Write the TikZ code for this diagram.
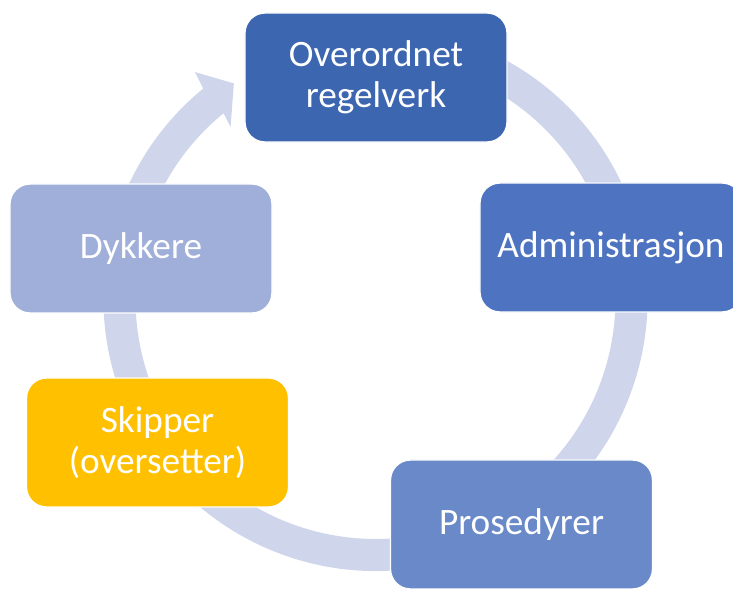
\documentclass[tikz,border=0pt]{standalone}
\usepackage{fontspec}
\setmainfont{Carlito}
\usetikzlibrary{positioning}
\definecolor{topblue}{HTML}{3D66B1}
\definecolor{midblue}{HTML}{4E74C1}
\definecolor{lowblue}{HTML}{6A89C9}
\definecolor{paleblue}{HTML}{A0AFD9}
\definecolor{skipgold}{HTML}{FFC000}
\definecolor{ring}{HTML}{CFD5EA}

\begin{document}
\begin{tikzpicture}[
  x=0.025cm, y=0.025cm,
  cbox/.style={draw=white, line width=1pt, rounded corners=0.5cm,
               minimum width=6.55cm, minimum height=3.225cm, align=center,
               text=white, font=\fontsize{26.5}{29}\selectfont}
]
  \clip (0,0) rectangle (733,588);
  \coordinate (ctr) at (375.5,289);

  % cycle band with arrow head
  \fill[ring] ([shift={(ctr)}]70:272) arc[start angle=70, end angle=-230.7, radius=272]
    -- ([shift={(ctr)}]-231.5:290) -- ([shift={(ctr)}]-236.7:258)
    -- ([shift={(ctr)}]-229.9:225) -- ([shift={(ctr)}]-230.7:240)
    arc[start angle=-230.7, end angle=70, radius=240] -- cycle;

  % boxes
  \node[cbox, fill=topblue] (regelverk) at (376,510.5) {Overordnet\\regelverk};
  \node[cbox, fill=midblue] (admin) at (611,340.5) {Administrasjon};
  \node[cbox, fill=lowblue] (prosedyrer) at (521.5,63.5) {Prosedyrer};
  \node[cbox, fill=skipgold] (skipper) at (157.5,145.5) {Skipper\\(oversetter)};
  \node[cbox, fill=paleblue] (dykkere) at (141,339.5) {Dykkere};
\end{tikzpicture}
\end{document}
